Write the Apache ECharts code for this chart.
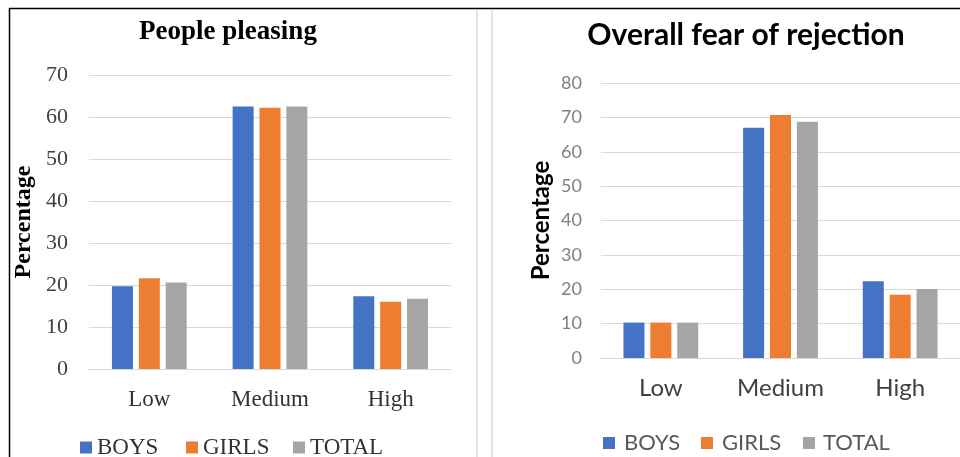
<!DOCTYPE html>
<html>
<head>
<meta charset="utf-8">
<script src="https://cdn.jsdelivr.net/npm/echarts@6/dist/echarts.min.js"></script>
<style>
  html, body { margin: 0; padding: 0; background: #fff; }
  #chart { width: 960px; height: 457px; }
</style>
</head>
<body>
<div id="chart"></div>
<script>
// Categories and groups
const levels = ['Low', 'Medium', 'High'];
const groups = ['BOYS', 'GIRLS', 'TOTAL'];

// People pleasing (%)
const pleasingBoys  = [19.7, 62.5, 17.3];
const pleasingGirls = [21.6, 62.2, 16.0];
const pleasingTotal = [20.6, 62.5, 16.7];

// Overall fear of rejection (%)
const rejectionBoys  = [10.3, 67.0, 22.3];
const rejectionGirls = [10.3, 70.7, 18.4];
const rejectionTotal = [10.3, 68.7, 20.1];

// Axis ranges
const pleasingMax = 70;
const rejectionMax = 80;
const tickStep = 10;

const colors = ['#4472C4', '#ED7D31', '#A5A5A5'];
const serif = '"Liberation Serif", "Times New Roman", serif';
const sans = 'Lato, "Noto Sans", sans-serif';

const chart = echarts.init(document.getElementById('chart'), null, { renderer: 'canvas' });

function barSeries(name, data, axisIndex, color) {
  return {
    type: 'bar', name: name, data: data,
    xAxisIndex: axisIndex, yAxisIndex: axisIndex,
    barWidth: 21, barGap: '28%',
    itemStyle: { color: color },
    emphasis: { disabled: true },
    animation: false
  };
}

function legendItem(name, left, top, font, size, textPad) {
  return {
    data: [name], left: left, top: top, padding: 0,
    icon: 'rect', itemWidth: 12, itemHeight: 12, itemGap: 0,
    selectedMode: false,
    textStyle: { fontFamily: font, fontSize: size, color: font === serif ? '#333' : '#595959', padding: [0, 0, 0, textPad] }
  };
}

const option = {
  animation: false,
  color: colors,
  title: [
    { text: 'People pleasing', left: 223, top: 14, textAlign: 'center',
      textStyle: { fontFamily: serif, fontWeight: 'bold', fontSize: 27, color: '#000' } },
    { text: 'Overall fear of rejection', left: 741, top: 15, textAlign: 'center',
      textStyle: { fontFamily: sans, fontWeight: 'bold', fontSize: 30, color: '#000' } }
  ],
  legend: [
    legendItem('BOYS', 80, 436, serif, 23, 0),
    legendItem('GIRLS', 186, 436, serif, 23, 0),
    legendItem('TOTAL', 293, 436, serif, 23, 0),
    legendItem('BOYS', 603, 432, sans, 22, 4),
    legendItem('GIRLS', 701, 432, sans, 22, 4),
    legendItem('TOTAL', 803, 432, sans, 22, 3)
  ],
  grid: [
    { left: 89, top: 75, width: 362, height: 294 },
    { left: 601, top: 83, width: 367, height: 275 }
  ],
  xAxis: [
    { type: 'category', gridIndex: 0, data: levels,
      axisLine: { lineStyle: { color: '#d9d9d9' } }, axisTick: { show: false },
      axisLabel: { fontFamily: serif, fontSize: 23, color: '#333', margin: 19 } },
    { type: 'category', gridIndex: 1, data: levels,
      axisLine: { lineStyle: { color: '#d9d9d9' } }, axisTick: { show: false },
      axisLabel: { fontFamily: sans, fontSize: 24, color: '#404040', margin: 18 } }
  ],
  yAxis: [
    { type: 'value', gridIndex: 0, min: 0, max: pleasingMax, interval: tickStep,
      name: 'Percentage', nameLocation: 'middle', nameRotate: 90, nameGap: 53,
      nameTextStyle: { fontFamily: serif, fontWeight: 'bold', fontSize: 24, color: '#000' },
      axisLine: { show: false }, axisTick: { show: false },
      splitLine: { lineStyle: { color: '#d9d9d9', width: 1 } },
      axisLabel: { fontFamily: serif, fontSize: 22, color: '#404040', margin: 21 } },
    { type: 'value', gridIndex: 1, min: 0, max: rejectionMax, interval: tickStep,
      name: 'Percentage', nameLocation: 'middle', nameRotate: 90, nameGap: 48,
      nameTextStyle: { fontFamily: sans, fontWeight: 'bold', fontSize: 24, color: '#000' },
      axisLine: { show: false }, axisTick: { show: false },
      splitLine: { lineStyle: { color: '#d9d9d9', width: 1 } },
      axisLabel: { fontFamily: sans, fontSize: 18, color: '#7f7f7f', margin: 19 } }
  ],
  series: [
    barSeries(groups[0], pleasingBoys, 0, colors[0]),
    barSeries(groups[1], pleasingGirls, 0, colors[1]),
    barSeries(groups[2], pleasingTotal, 0, colors[2]),
    barSeries(groups[0], rejectionBoys, 1, colors[0]),
    barSeries(groups[1], rejectionGirls, 1, colors[1]),
    barSeries(groups[2], rejectionTotal, 1, colors[2])
  ],
  graphic: [
    // panel frame
    { type: 'line', shape: { x1: 9, y1: 8.5, x2: 960, y2: 8.5 }, style: { stroke: '#000', lineWidth: 1.5 }, silent: true },
    { type: 'line', shape: { x1: 9.5, y1: 8, x2: 9.5, y2: 457 }, style: { stroke: '#000', lineWidth: 1.5 }, silent: true },
    { type: 'line', shape: { x1: 477, y1: 10, x2: 477, y2: 457 }, style: { stroke: '#e3e3e3', lineWidth: 2 }, silent: true },
    { type: 'line', shape: { x1: 492, y1: 10, x2: 492, y2: 457 }, style: { stroke: '#e3e3e3', lineWidth: 2 }, silent: true }
  ]
};

chart.setOption(option);
</script>
</body>
</html>
